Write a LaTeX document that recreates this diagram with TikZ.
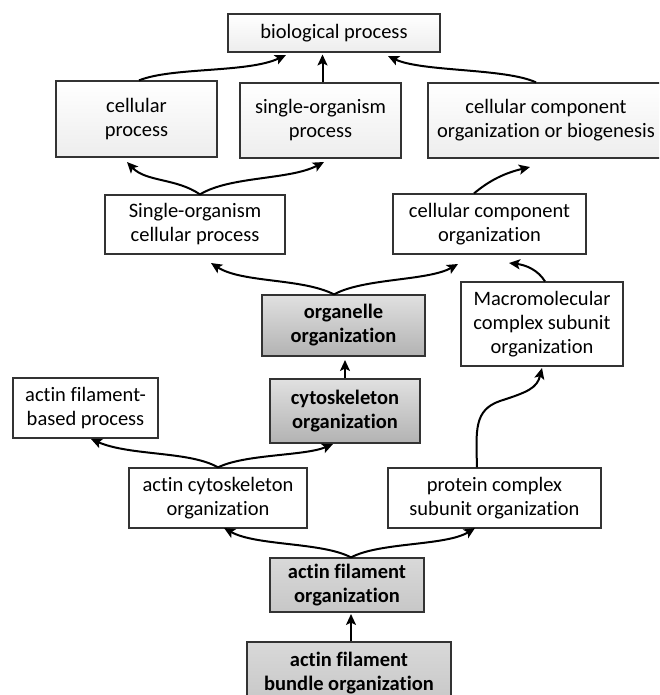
\documentclass[tikz,border=0pt]{standalone}
\usepackage{fontspec}
\setmainfont{Carlito}[Ligatures=NoCommon]
\usetikzlibrary{arrows.meta}
\begin{document}
\begin{tikzpicture}[x=1pt,y=-1pt,
  box/.style={draw=black!80,line width=1.2pt,rectangle,inner sep=0pt,align=center,
    font=\fontsize{20.5}{24}\selectfont,text=black},
  topbox/.style={box,top color=white,bottom color=black!7},
  whitebox/.style={box,fill=white},
  darkbox/.style={box,top color=black!12,bottom color=black!30,font=\fontsize{20.5}{24}\selectfont\bfseries},
  lightbox/.style={box,top color=black!15,bottom color=black!22,font=\fontsize{20.5}{24}\selectfont\bfseries},
  arr/.style={line width=2pt,-{Stealth[length=11pt,width=10pt,inset=2.5pt]}}]
\clip (0,0) rectangle (659,695);
\fill[white] (0,0) rectangle (659,695);

\node[topbox,minimum width=212pt,minimum height=38pt] (bp) at (334,33) {biological process};
\node[topbox,minimum width=161pt,minimum height=76pt] (cp) at (136.5,119) {cellular\\process};
\node[topbox,minimum width=161pt,minimum height=75pt] (sop) at (320.5,120.5) {single-organism\\process};
\node[topbox,minimum width=236pt,minimum height=75pt] (ccob) at (546,120.5) {cellular component\\organization or biogenesis};

\node[whitebox,minimum width=180pt,minimum height=59pt] (soc) at (195,224.5) {Single-organism\\cellular process};
\node[whitebox,minimum width=193pt,minimum height=60pt] (cco) at (489.5,224) {cellular component\\organization};

\node[darkbox,minimum width=163pt,minimum height=61pt] (org) at (343.5,325.5) {organelle\\organization};
\node[whitebox,minimum width=162pt,minimum height=84pt] (mac) at (542,324) {Macromolecular\\complex subunit\\organization};

\node[whitebox,minimum width=145pt,minimum height=60pt] (afbp) at (85.5,408) {actin filament-\\based process};
\node[darkbox,minimum width=150pt,minimum height=64pt] (cyto) at (345,411) {cytoskeleton\\organization};

\node[whitebox,minimum width=178pt,minimum height=60pt] (acyto) at (218,498) {actin cytoskeleton\\organization};
\node[whitebox,minimum width=213pt,minimum height=60pt] (pcso) at (494.5,498) {protein complex\\subunit organization};

\node[lightbox,minimum width=154pt,minimum height=54pt] (afo) at (347,585) {actin filament\\organization};
\node[lightbox,minimum width=204pt,minimum height=62pt] (bund) at (349,673) {actin filament\\bundle organization};

% connector end points on the box borders
\coordinate (cpT) at ([xshift=2.5pt]cp.north);
\coordinate (sopT) at ([xshift=2pt]sop.north);
\coordinate (ccobT) at ([xshift=-10pt]ccob.north);
\coordinate (socT) at ([xshift=5pt]soc.north);
\coordinate (ccoT) at ([xshift=-15.5pt]cco.north);
\coordinate (orgT) at ([xshift=-9.5pt]org.north);
\coordinate (macT) at ([xshift=3pt]mac.north);
\coordinate (cytoT) at (cyto.north);
\coordinate (acyT) at (acyto.north);
\coordinate (pcsoT) at ([xshift=-17.5pt]pcso.north);
\coordinate (afoT) at ([xshift=4pt]afo.north);
\coordinate (bundT) at ([xshift=2pt]bund.north);

\draw[arr] (cpT) .. controls (172,67) and (248,73) .. (286,55);
\draw[arr] (sopT) -- (322.5,54.5);
\draw[arr] (ccobT) .. controls (505,68) and (422,72) .. (388,56);

\draw[arr] (socT) .. controls (176,178) and (146,182) .. (127,162);
\draw[arr] (socT) .. controls (230,176) and (290,180) .. (324,162);
\draw[arr] (ccoT) .. controls (490,180) and (505,173) .. (530,167);

\draw[arr] (orgT) .. controls (302,278) and (242,283) .. (211,263);
\draw[arr] (orgT) .. controls (364,278) and (428,281) .. (458,264);
\draw[arr] (macT) .. controls (538,270) and (526,265) .. (509,263);

\draw[arr] (cytoT) -- (345,360);

\draw[arr] (acyT) .. controls (190,451) and (130,456) .. (91,439);
\draw[arr] (acyT) .. controls (245,454) and (305,456) .. (333,444);
\draw[arr] (pcsoT) .. controls (476,430) and (474,410) .. (500,401) .. controls (528,392) and (537,388) .. (542,368);

\draw[arr] (afoT) .. controls (322,542) and (256,546) .. (224,528);
\draw[arr] (afoT) .. controls (380,542) and (446,546) .. (475,528);
\draw[arr] (bundT) -- (351,614);
\end{tikzpicture}
\end{document}
